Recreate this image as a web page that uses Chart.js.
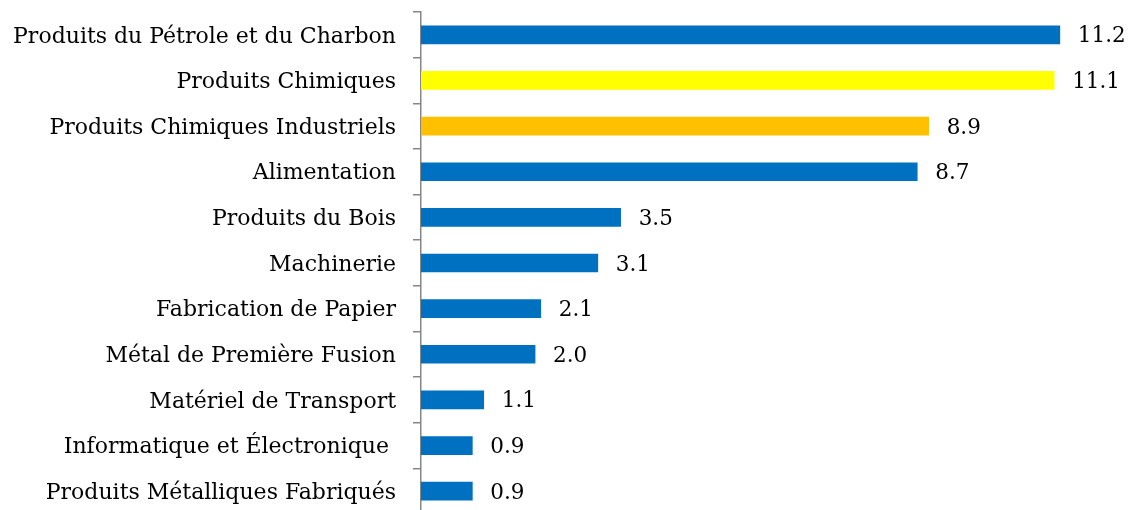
<!DOCTYPE html>
<html>
<head>
<meta charset="utf-8">
<script src="https://cdn.jsdelivr.net/npm/chart.js@4"></script>
<style>
  html, body { margin: 0; padding: 0; background: #fff; overflow: hidden; }
  #wrap { width: 1130px; height: 516px; }
</style>
</head>
<body>
<div id="wrap"><canvas id="chart" width="1130" height="516"></canvas></div>
<script>
// Industries, top to bottom
const categories = [
  "Produits du Pétrole et du Charbon",
  "Produits Chimiques",
  "Produits Chimiques Industriels",
  "Alimentation",
  "Produits du Bois",
  "Machinerie",
  "Fabrication de Papier",
  "Métal de Première Fusion",
  "Matériel de Transport",
  "Informatique et Électronique ",
  "Produits Métalliques Fabriqués"
];
const values = [11.2, 11.1, 8.9, 8.7, 3.5, 3.1, 2.1, 2.0, 1.1, 0.9, 0.9];

// colours (blue default, two highlighted bars)
const blue = "#0070C0";
const barColors = categories.map((c, i) => i === 1 ? "#FFFF00" : i === 2 ? "#FFC000" : blue);

const labelFont = "'DejaVu Serif', serif";

// draws the value at the end of each bar
const valueLabels = {
  id: "valueLabels",
  afterDatasetsDraw(chart) {
    const ctx = chart.ctx;
    const meta = chart.getDatasetMeta(0);
    ctx.save();
    ctx.font = "21.5px " + labelFont;
    ctx.fillStyle = "#000";
    ctx.textAlign = "left";
    ctx.textBaseline = "middle";
    meta.data.forEach((bar, i) => {
      ctx.fillText(values[i].toFixed(1), bar.x + 18, bar.y + 2);
    });
    ctx.restore();
  }
};

new Chart(document.getElementById("chart"), {
  type: "bar",
  data: {
    labels: categories,
    datasets: [{
      data: values,
      backgroundColor: barColors,
      barThickness: 18
    }]
  },
  options: {
    indexAxis: "y",
    responsive: false,
    animation: false,
    layout: { padding: { top: 12, bottom: 2, left: 0, right: 0 } },
    plugins: {
      legend: { display: false },
      tooltip: { enabled: false }
    },
    scales: {
      x: {
        display: false,
        min: 0,
        max: 12.43
      },
      y: {
        afterFit(scale) {
          scale.width = 421;
          scale.paddingTop = 0;
          scale.paddingBottom = 0;
        },
        border: { display: true, color: "#868686", width: 1.5 },
        grid: {
          drawOnChartArea: false,
          drawTicks: true,
          tickLength: 8,
          color: "#868686",
          lineWidth: 1.5,
          offset: true
        },
        ticks: {
          color: "#000",
          padding: 17,
          labelOffset: 2,
          font: { family: labelFont, size: 22 }
        }
      }
    }
  },
  plugins: [valueLabels]
});
</script>
</body>
</html>
